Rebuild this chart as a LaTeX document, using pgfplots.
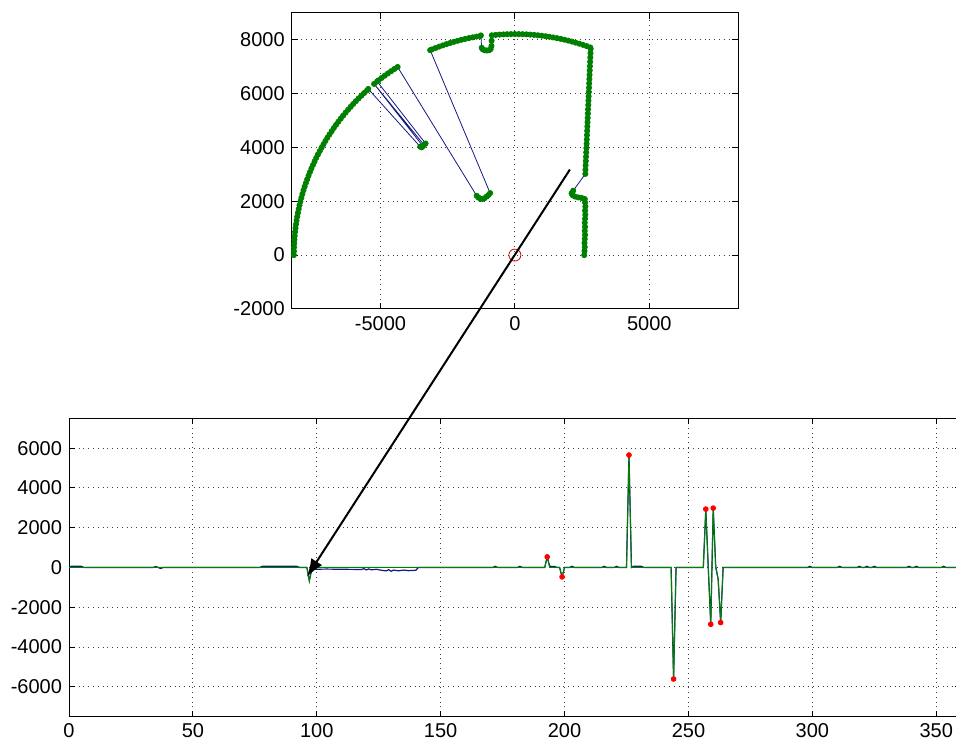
\documentclass[border=0pt]{standalone}
\usepackage{fontspec}
\setmainfont{Liberation Sans}
\usepackage{pgfplots}
\usepackage{pgfplotstable}
\pgfplotsset{compat=1.18}
\usetikzlibrary{arrows.meta}
\definecolor{mgreen}{rgb}{0,0.5,0}
\definecolor{mblue}{rgb}{0.08,0.1,0.5}

\pgfplotstableread{
x y
2580 0
2590 150
2600 300
2590 450
2600 600
2610 750
2600 900
2610 1050
2600 1200
2610 1350
2620 1500
2610 1650
2620 1800
2610 1950
2600 2080
2480 2120
2360 2140
2240 2170
2150 2220
2110 2290
2170 2390
2620 3010
2625 3170
2632 3330
2640 3490
2647 3650
2654 3810
2661 3970
2668 4130
2675 4290
2682 4450
2689 4610
2696 4770
2703 4930
2710 5090
2717 5250
2723 5410
2730 5570
2737 5730
2744 5890
2751 6050
2758 6210
2764 6370
2771 6530
2778 6690
2785 6850
2792 7010
2799 7170
2806 7330
2813 7490
2820 7650
2804 7705
2670 7753
2534 7799
2397 7842
2260 7882
2122 7921
1984 7956
1845 7990
1705 8021
1565 8049
1424 8075
1283 8099
1141 8120
1000 8139
857 8155
715 8169
572 8180
429 8189
286 8195
143 8199
0 8200
-143 8199
-286 8195
-429 8189
-572 8180
-715 8169
-857 8155
-865 7950
-870 7760
-900 7640
-960 7600
-1040 7590
-1120 7600
-1190 7630
-1235 7690
-1265 8150
-1287 8129
-1429 8105
-1570 8079
-1711 8050
-1852 8019
-1991 7986
-2130 7949
-2268 7911
-2406 7870
-2543 7828
-2680 7781
-2815 7734
-2950 7683
-3083 7631
-3150 7604
-920 2300
-980 2230
-1050 2170
-1130 2110
-1210 2080
-1290 2090
-1360 2140
-1420 2200
-4361 6979
-4482 6903
-4602 6823
-4721 6742
-4838 6658
-4953 6573
-5067 6485
-5123 6441
-3320 4140
-3380 4090
-5235 6350
-3420 4040
-3470 4000
-3520 4020
-5453 6164
-5500 6108
-5606 6012
-5710 5913
-5812 5812
-5913 5710
-6012 5606
-6108 5500
-6204 5393
-6297 5284
-6388 5173
-6477 5061
-6565 4947
-6650 4832
-6734 4715
-6814 4597
-6894 4477
-6971 4356
-7046 4233
-7119 4110
-7189 3985
-7257 3859
-7324 3732
-7388 3604
-7450 3474
-7509 3343
-7567 3212
-7622 3079
-7674 2946
-7724 2811
-7772 2676
-7818 2540
-7861 2404
-7902 2265
-7940 2127
-7976 1988
-8010 1850
-8040 1709
-8069 1568
-8095 1427
-8119 1286
-8140 1144
-8158 1002
-8175 859
-8189 717
-8200 574
-8208 430
-8215 287
-8218 144
-8220 0
}\scan

\pgfplotstableread{
x y
0 0
1 60
5 60
6 0
34 0
35 50
36 0
37 -50
38 0
77 0
78 60
92 60
93 0
96 0
97 -650
98 -90
104 -80
110 -90
118 -100
119 -60
120 -120
121 -70
122 -120
124 -90
126 -140
128 -170
129 -110
130 -190
131 -130
133 -170
135 -130
137 -160
140 -140
141 0
171 0
172 60
173 0
181 0
182 60
183 0
192 0
193 533
194 60
196 50
197 0
198 0
199 -473
200 0
202 0
203 60
204 0
215 0
216 60
217 0
220 0
221 60
222 0
225 0
226 5652
227 0
228 60
231 60
232 0
243 0
244 -5606
245 0
256 0
257 2934
258 0
259 -2854
260 2984
261 60
262 -600
263 -2768
264 0
298 0
299 60
300 0
310 0
311 60
312 0
318 0
319 60
320 0
321 0
322 60
323 0
324 0
325 60
326 0
338 0
339 60
340 0
341 0
342 60
343 0
352 0
353 60
354 0
360 0
}\bluediff

\pgfplotstableread{
x y
0 0
96 0
97 -700
98 0
192 0
193 533
194 0
198 0
199 -473
200 0
225 0
226 5652
227 0
243 0
244 -5606
245 0
256 0
257 2934
258 0
259 -2854
260 2984
261 0
262 -600
263 -2768
264 0
360 0
}\greendiff

\pgfplotstableread{
x y
193 533
199 -473
226 5652
244 -5606
257 2934
259 -2854
260 2984
263 -2768
}\peaks

\pgfplotsset{
  mstyle/.style={
    scale only axis,
    axis line style={black, line width=0.5pt},
    tick style={black, line width=0.5pt},
    major tick length=3pt,
    tick align=inside,
    tick pos=both,
    grid=major,
    major grid style={black!75, dotted, line width=0.5pt},
    scaled ticks=false,
    /pgf/number format/1000 sep={},
    /pgf/number format/assume math mode=true,
    ticklabel style={font=\fontsize{10}{12}\selectfont},
  }
}

\begin{document}
\begin{tikzpicture}
\useasboundingbox (0,0) rectangle (478pt,371.5pt);
\begin{axis}[mstyle, at={(145.85pt,217pt)}, anchor=south west,
  width=223.15pt, height=148.25pt,
  xmin=-8300, xmax=8300, ymin=-2000, ymax=9000,
  xtick={-5000,0,5000}, ytick={-2000,0,...,8000}]
\addplot[mblue, line width=0.4pt] table {\scan};
\addplot[only marks, mark=*, mark size=1.3pt, mgreen] table {\scan};
\addplot[only marks, mark=o, mark size=3pt, red!85!black, line width=0.4pt] coordinates {(0,0)};
\coordinate (A) at (axis cs:2047,3174);
\end{axis}
\begin{axis}[mstyle, at={(34.5pt,13.15pt)}, anchor=south west,
  width=446pt, height=149.2pt,
  xmin=0, xmax=360, ymin=-7500, ymax=7500,
  xtick={0,50,...,350}, ytick={-6000,-4000,...,6000}]
\addplot[mblue, line width=0.6pt] table {\bluediff};
\addplot[mgreen, line width=0.5pt] table {\greendiff};
\addplot[only marks, mark=*, mark size=1.2pt, red] table {\peaks};
\coordinate (B) at (axis cs:96,-470);
\end{axis}
\draw[line width=1pt, -{Latex[length=9pt,width=6.5pt]}] (A) -- (B);
\end{tikzpicture}
\end{document}
